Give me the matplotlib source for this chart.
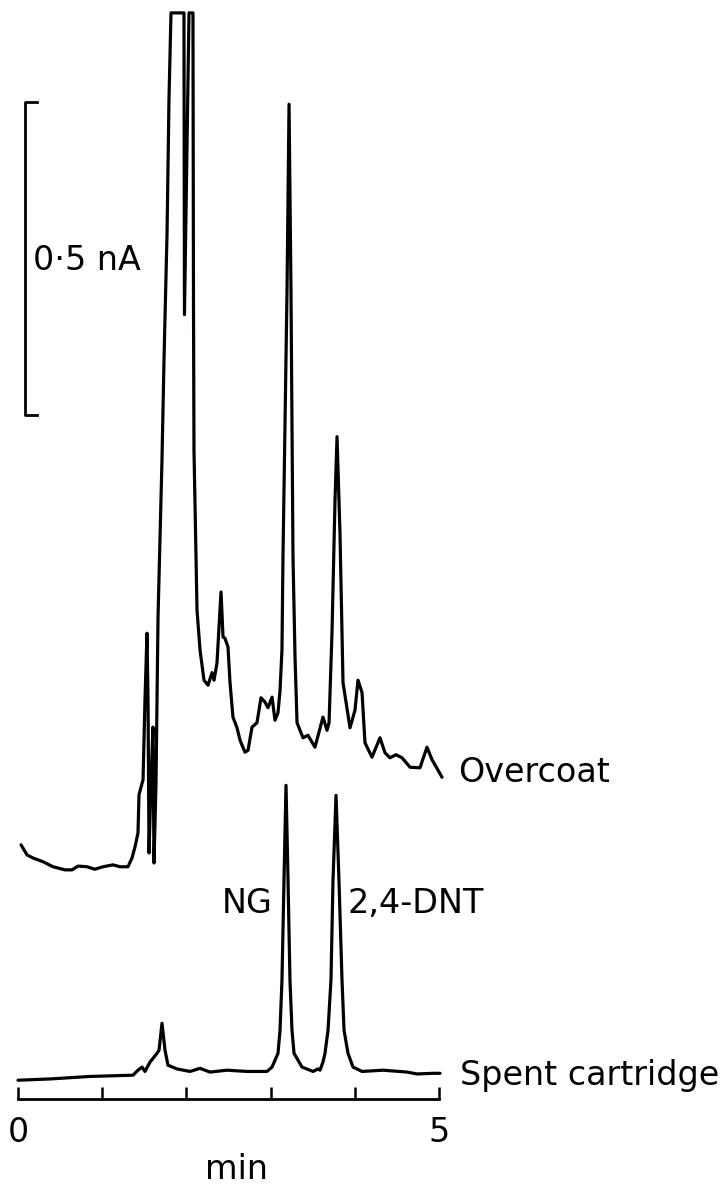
import matplotlib
matplotlib.use('Agg')
import matplotlib.pyplot as plt
from matplotlib import font_manager

# retention time (min) and detector current (nA)
overcoat_t = [0.036, 0.107, 0.178, 0.297, 0.416, 0.558, 0.641, 0.713, 0.819, 0.914,
              1.010, 1.128, 1.211, 1.306, 1.354, 1.390, 1.425, 1.437, 1.485, 1.508,
              1.532, 1.544, 1.556, 1.580, 1.603, 1.615, 1.639, 1.663, 1.686, 1.710,
              1.734, 1.770, 1.793, 1.817, 1.971, 1.977, 2.031, 2.078, 2.084, 2.090,
              2.126, 2.162, 2.209, 2.257, 2.304, 2.328, 2.363, 2.411, 2.435, 2.458,
              2.494, 2.518, 2.553, 2.601, 2.637, 2.696, 2.732, 2.779, 2.838, 2.886,
              2.933, 2.969, 3.017, 3.052, 3.088, 3.112, 3.135, 3.147, 3.171, 3.195,
              3.219, 3.242, 3.254, 3.266, 3.290, 3.314, 3.385, 3.444, 3.527, 3.622,
              3.670, 3.694, 3.729, 3.765, 3.789, 3.824, 3.860, 3.943, 4.002, 4.038,
              4.086, 4.121, 4.204, 4.299, 4.359, 4.418, 4.489, 4.561, 4.656, 4.774,
              4.857, 4.917, 5.036]
overcoat_i = [0.037, 0.021, 0.016, 0.010, 0.002, -0.003, -0.003, 0.003, 0.002, -0.002,
              0.002, 0.005, 0.002, 0.002, 0.016, 0.034, 0.056, 0.117, 0.141, 0.268,
              0.375, 0.268, 0.024, 0.141, 0.225, 0.008, 0.136, 0.401, 0.524, 0.652,
              0.812, 1.014, 1.227, 1.366, 1.366, 0.884, 1.366, 1.366, 0.907, 0.668,
              0.412, 0.348, 0.300, 0.292, 0.312, 0.300, 0.327, 0.441, 0.369, 0.367,
              0.353, 0.296, 0.241, 0.224, 0.204, 0.185, 0.188, 0.225, 0.232, 0.272,
              0.265, 0.256, 0.273, 0.236, 0.248, 0.284, 0.348, 0.497, 0.709, 0.923,
              1.220, 0.923, 0.709, 0.497, 0.337, 0.232, 0.208, 0.212, 0.193, 0.241,
              0.220, 0.232, 0.375, 0.588, 0.689, 0.535, 0.296, 0.224, 0.252, 0.300,
              0.280, 0.200, 0.177, 0.208, 0.184, 0.176, 0.181, 0.176, 0.161, 0.160,
              0.193, 0.173, 0.145]

spent_t = [0.000, 0.380, 0.855, 1.366, 1.425, 1.473, 1.508, 1.568, 1.651, 1.675,
           1.710, 1.746, 1.781, 1.888, 2.043, 2.162, 2.280, 2.482, 2.720, 2.957,
           3.017, 3.088, 3.112, 3.135, 3.159, 3.183, 3.207, 3.230, 3.254, 3.278,
           3.373, 3.504, 3.563, 3.587, 3.622, 3.646, 3.682, 3.717, 3.741, 3.777,
           3.812, 3.848, 3.872, 3.919, 3.979, 4.086, 4.335, 4.620, 4.739, 4.929,
           5.012]
spent_i = [0.000, 0.002, 0.006, 0.008, 0.016, 0.021, 0.014, 0.029, 0.043, 0.048,
           0.091, 0.048, 0.024, 0.018, 0.014, 0.019, 0.013, 0.016, 0.014, 0.014,
           0.021, 0.043, 0.080, 0.160, 0.319, 0.471, 0.319, 0.160, 0.080, 0.043,
           0.021, 0.014, 0.018, 0.016, 0.029, 0.043, 0.080, 0.160, 0.319, 0.455,
           0.319, 0.160, 0.080, 0.043, 0.021, 0.014, 0.016, 0.013, 0.010, 0.011,
           0.011]

# vertical offsets of the two traces on the chart paper (nA)
overcoat_offset = 0.369
spent_offset = 0.030

scale_bar = 0.5          # nA
time_ticks = [0, 1, 2, 3, 4, 5]

installed = {f.name for f in font_manager.fontManager.ttflist}
if 'Liberation Sans Narrow' in installed:
    FONT, FS = 'Liberation Sans Narrow', 29
else:
    FONT, FS = 'DejaVu Sans', 24
plt.rcParams['font.family'] = [FONT, 'DejaVu Sans']

fig = plt.figure(figsize=(7.22, 11.86), dpi=100)
ax = fig.add_axes([0, 0, 1, 1])
ax.set_xlim(-0.2138, 8.361)
ax.set_ylim(-0.139, 1.7556)

lw = 2.3
ax.plot(overcoat_t, [v + overcoat_offset for v in overcoat_i], color='black', lw=lw,
        solid_joinstyle='round', solid_capstyle='round')
ax.plot(spent_t, [v + spent_offset for v in spent_i], color='black', lw=lw,
        solid_joinstyle='round', solid_capstyle='round')

# scale bar
bar_lo = 1.093
ax.plot([0.226, 0.083, 0.083, 0.226], [bar_lo, bar_lo, bar_lo + scale_bar, bar_lo + scale_bar],
        color='black', lw=2.0)
ax.text(0.178, bar_lo + scale_bar / 2 - 0.003, '0·5 nA', fontsize=FS, ha='left', va='center')

# time axis
for s in ['top', 'left', 'right']:
    ax.spines[s].set_visible(False)
ax.spines['bottom'].set_position(('data', 0))
ax.spines['bottom'].set_bounds(0, 5)
ax.spines['bottom'].set_linewidth(2.0)
ax.set_xticks(time_ticks)
ax.set_xticklabels(['0', '', '', '', '', '5'], fontsize=FS)
ax.tick_params(axis='x', direction='in', length=8.6, width=1.8, pad=12)
ax.set_yticks([])
ax.text(2.59, -0.113, 'min', fontsize=FS, ha='center', va='center')

# labels
ax.text(5.226, 0.521, 'Overcoat', fontsize=FS, ha='left', va='center')
ax.text(3.028, 0.313, 'NG', fontsize=FS, ha='right', va='center')
ax.text(3.919, 0.313, '2,4-DNT', fontsize=FS, ha='left', va='center')
ax.text(5.249, 0.038, 'Spent cartridge', fontsize=FS, ha='left', va='center')

fig.savefig('out.png', dpi=100)
